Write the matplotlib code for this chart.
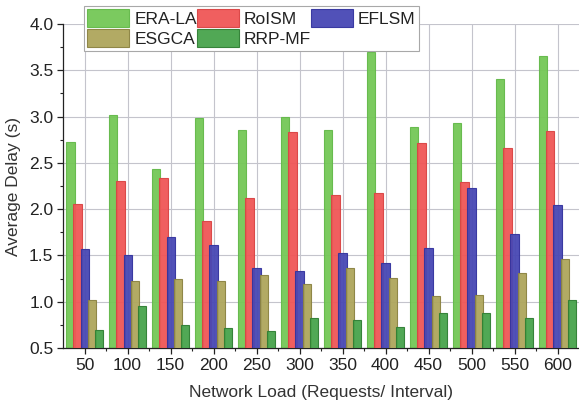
import matplotlib
matplotlib.use("Agg")
import matplotlib.pyplot as plt
import numpy as np
from matplotlib.ticker import MultipleLocator

loads = ["50", "100", "150", "200", "250", "300", "350", "400", "450", "500", "550", "600"]
era_la = [2.72, 3.02, 2.43, 2.98, 2.86, 3.00, 2.85, 3.70, 2.89, 2.93, 3.40, 3.65]
roism = [2.06, 2.30, 2.34, 1.87, 2.12, 2.83, 2.15, 2.18, 2.71, 2.29, 2.66, 2.84]
eflsm = [1.57, 1.50, 1.70, 1.61, 1.36, 1.33, 1.53, 1.42, 1.58, 2.23, 1.73, 2.05]
esgca = [1.02, 1.23, 1.25, 1.22, 1.29, 1.19, 1.37, 1.26, 1.06, 1.07, 1.31, 1.46]
rrp_mf = [0.70, 0.95, 0.75, 0.72, 0.68, 0.82, 0.80, 0.73, 0.88, 0.88, 0.82, 1.02]

series = [
    ("ERA-LA", era_la, "#74C856", "#64B94A"),
    ("RoISM", roism, "#F05656", "#DA4444"),
    ("EFLSM", eflsm, "#4848B4", "#34349F"),
    ("ESGCA", esgca, "#AEA65C", "#8B8342"),
    ("RRP-MF", rrp_mf, "#48A44C", "#307F34"),
]

plt.rcParams["font.family"] = ["Liberation Sans", "DejaVu Sans"]

fig = plt.figure(figsize=(5.79, 4.12), dpi=100)
ax = fig.add_axes([0.109, 0.155, 0.891, 0.787])

x = np.arange(len(loads))
step = 0.165
width = 0.19
handles = {}
for i, (name, vals, face, edge) in enumerate(series):
    bars = ax.bar(x + (i - 2) * step, np.array(vals) - 0.5, width, bottom=0.5,
                  color=face, edgecolor=edge, linewidth=0.8, alpha=0.95,
                  zorder=2 + i, label=name)
    handles[name] = bars

ax.set_xlim(-0.5, len(loads) - 0.5)
ax.set_ylim(0.5, 4.0)
ax.set_xticks(x)
ax.set_xticklabels(loads)
ax.set_xticks(x[:-1] + 0.5, minor=True)
ax.yaxis.set_major_locator(MultipleLocator(0.5))
ax.yaxis.set_minor_locator(MultipleLocator(0.25))
ax.set_yticks(np.arange(0.5, 4.01, 0.5))
ax.set_yticklabels([f"{v:.1f}" for v in np.arange(0.5, 4.01, 0.5)])

ax.grid(True, which="major", color="#C4C4CC", linewidth=0.8, zorder=0)
ax.set_axisbelow(True)
ax.tick_params(axis="both", which="major", direction="out", length=4, width=0.9,
               labelsize=12.5, colors="#222222", pad=3)
ax.tick_params(axis="both", which="minor", direction="out", length=2, width=0.8, colors="#222222")
for side in ["top", "right"]:
    ax.spines[side].set_visible(False)
for side in ["left", "bottom"]:
    ax.spines[side].set_color("#222222")
    ax.spines[side].set_linewidth(0.9)

ax.set_xlabel("Network Load (Requests/ Interval)", fontsize=12.5, color="#333333", labelpad=9)
ax.set_ylabel("Average Delay (s)", fontsize=12.5, color="#333333", labelpad=6)

order = ["ERA-LA", "ESGCA", "RoISM", "RRP-MF", "EFLSM"]
leg = ax.legend([handles[n] for n in order], order, ncol=3, loc="upper left",
                bbox_to_anchor=(84 / 579, 1 - 6 / 412), bbox_transform=fig.transFigure,
                fontsize=12.5, handlelength=2.4, handleheight=1.2, handletextpad=0.3,
                columnspacing=0.0, labelspacing=0.12, borderpad=0.2, borderaxespad=0,
                frameon=True, fancybox=False, framealpha=1)
leg.get_frame().set_edgecolor("#A8A8A8")
leg.get_frame().set_linewidth(0.8)
for t in leg.get_texts():
    t.set_color("#222222")

fig.savefig("out.png", dpi=100)
